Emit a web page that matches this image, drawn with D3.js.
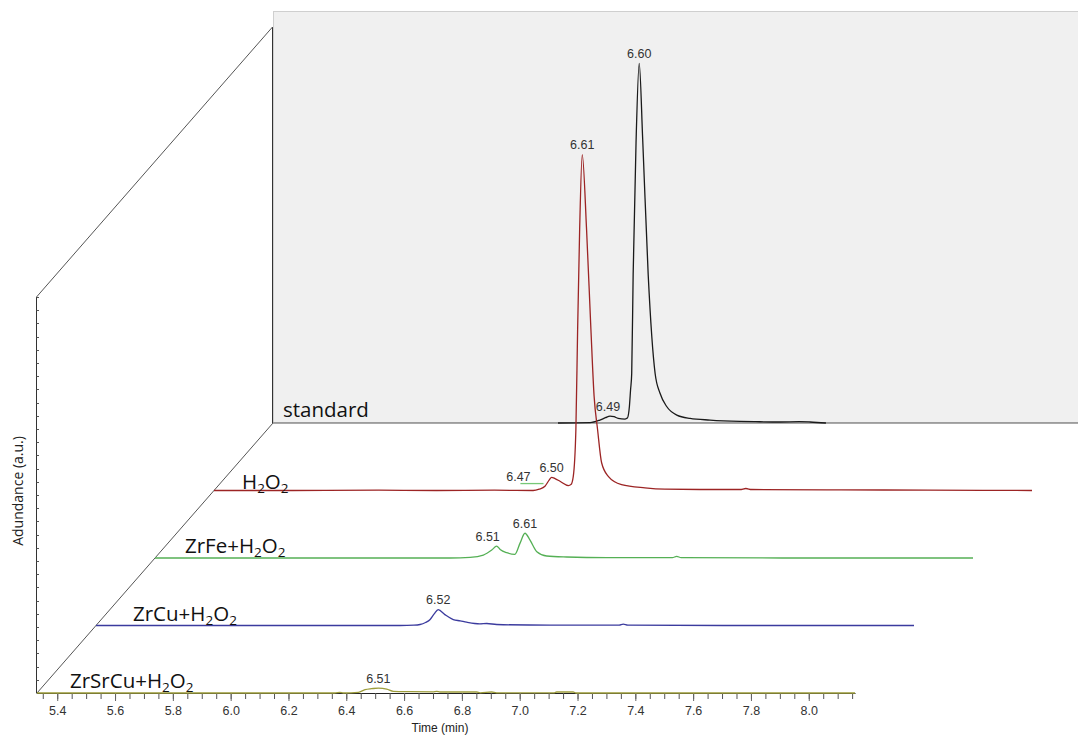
<!DOCTYPE html>
<html>
<head>
<meta charset="utf-8">
<script src="https://cdn.jsdelivr.net/npm/d3@7"></script>
<style>
  body { margin: 0; background: #fff; }
  svg { display: block; }
</style>
</head>
<body>
<svg id="chart" width="1078" height="736"></svg>
<script>
// ---- data -------------------------------------------------------------
const timeDomain = [5.33, 8.16];          // min
const abundanceDomain = [0, 120];         // a.u.
const timeTicks = [5.4, 5.6, 5.8, 6.0, 6.2, 6.4, 6.6, 6.8, 7.0, 7.2, 7.4, 7.6, 7.8, 8.0];

// series, front to back
const seriesNames = ["ZrSrCu+H2O2", "ZrCu+H2O2", "ZrFe+H2O2", "H2O2", "standard"];

// [time (min), abundance (a.u.)]
const traceZrSrCu = [
  [5.33, 0], [6.360, 0], [6.378, 0.2], [6.390, 0], [6.442, 0.2], [6.465, 1.0],
  [6.488, 1.3], [6.511, 1.5], [6.540, 1.2], [6.563, 0.5], [6.620, 0.4],
  [6.700, 0.35], [6.713, 0.5], [6.724, 0.3], [6.851, 0.3], [6.863, 0.05],
  [6.903, 0.3], [6.920, 0.05], [7.120, 0.05], [7.128, 0.3], [7.185, 0.3],
  [7.195, 0], [8.16, 0]
];
const traceZrCu = [
  [5.33, 0], [6.382, 0], [6.430, 0.1], [6.451, 0.3], [6.470, 0.9], [6.486, 1.8],
  [6.500, 3.5], [6.514, 4.8], [6.537, 3.3], [6.566, 1.8], [6.590, 1.4],
  [6.612, 1.0], [6.640, 0.6], [6.658, 0.5], [6.682, 0.6], [6.716, 0.3],
  [6.901, 0.1], [7.140, 0.1], [7.154, 0.4], [7.170, 0.1], [7.50, 0], [8.16, 0]
];
const traceZrFe = [
  [5.33, 0], [6.000, 0], [6.351, 0], [6.420, 0.2], [6.466, 0.9], [6.495, 2.4],
  [6.512, 3.6], [6.524, 2.6], [6.547, 1.6], [6.575, 1.1], [6.593, 4.5],
  [6.610, 7.5], [6.627, 5.5], [6.651, 1.9], [6.685, 0.6], [6.754, 0.3],
  [6.893, 0.1], [7.120, 0.1], [7.135, 0.5], [7.150, 0.1], [7.500, 0], [8.16, 0]
];
const traceH2O2 = [
  [5.33, 0], [5.60, 0], [5.90, 0.1], [6.10, 0], [6.30, 0.1], [6.434, 0],
  [6.455, 0.4], [6.475, 1.3], [6.490, 3.2], [6.498, 4.0], [6.510, 3.6],
  [6.527, 2.8], [6.556, 1.5], [6.565, 1.8], [6.573, 4.3], [6.582, 18.5],
  [6.588, 48.8], [6.595, 79], [6.604, 101.8], [6.619, 79], [6.634, 48.8],
  [6.645, 28.6], [6.657, 18.5], [6.671, 8.4], [6.694, 4.3], [6.740, 1.8],
  [6.821, 0.8], [6.890, 0.4], [7.011, 0.3], [7.150, 0.3], [7.170, 0.6],
  [7.190, 0.3], [7.500, 0.2], [7.800, 0.1], [8.16, 0]
];
const traceStandard = [
  [6.316, 0], [6.427, 0.1], [6.461, 0.9], [6.480, 1.6], [6.496, 2.1],
  [6.510, 1.9], [6.524, 1.4], [6.548, 1.2], [6.556, 1.5], [6.563, 5],
  [6.567, 10], [6.571, 15], [6.576, 45], [6.586, 85], [6.597, 109],
  [6.609, 86], [6.628, 45], [6.652, 15], [6.669, 9], [6.692, 5], [6.727, 2.4],
  [6.773, 1.4], [6.842, 0.9], [6.946, 0.5], [7.000, 0.4], [7.084, 0.3],
  [7.150, 0.4], [7.188, 0.3], [7.243, 0]
];
const traces = [traceZrSrCu, traceZrCu, traceZrFe, traceH2O2, traceStandard];

// short integration mark on the H2O2 run
const markH2O2 = [[6.39, 2.1], [6.47, 2.1]];

// retention-time labels
const peakSeries = ["standard", "standard", "H2O2", "H2O2", "ZrFe+H2O2", "ZrFe+H2O2", "ZrCu+H2O2", "ZrSrCu+H2O2"];
const peakTimes  = [6.597, 6.496, 6.604, 6.498, 6.610, 6.512, 6.514, 6.511];
const peakTexts  = ["6.60", "6.49", "6.61", "6.50", "6.61", "6.51", "6.52", "6.51"];
const markText = "6.47";

// ---- layout -----------------------------------------------------------
const W = 1078, H = 736;
const frontRange = [37, 855];
const frontBase = 693, axisHeight = 396;
const depthDx = 59, depthDy = -67.5;
const colors = ["#9c9c3a", "#3b3b9e", "#55b055", "#9c2424", "#1a1a1a"];
const nameDx = [33, 37, 30, 28, 10];
const nameDy = [-5, -5, -5, -2, -6];
const peakNudge = [0, -2, 0, 0, 0, -9, 0, 0];

const svg = d3.select("#chart");
const x = d3.scaleLinear().domain(timeDomain).range(frontRange);
const y = d3.scaleLinear().domain(abundanceDomain).range([frontBase, frontBase - axisHeight]);
const back = seriesNames.length - 1;
const sx = (k, t) => x(t) + k * depthDx;
const sy = (k, v) => y(v) + k * depthDy;

// back wall panel
const wallX = frontRange[0] + back * depthDx;
const wallTop = sy(back, abundanceDomain[1]);
const wallBase = sy(back, 0);
svg.append("rect")
  .attr("x", wallX + 0.5).attr("y", wallTop - 15.5)
  .attr("width", W - wallX + 10).attr("height", wallBase - wallTop + 15)
  .attr("fill", "#f0f0f0").attr("stroke", "#cfcfcf").attr("stroke-width", 1);
svg.append("line")
  .attr("x1", wallX).attr("x2", W)
  .attr("y1", wallBase).attr("y2", wallBase)
  .attr("stroke", "#8c8c8c").attr("stroke-width", 1.6);

// frame: front abundance axis, back wall axis, depth diagonals
const frame = svg.append("g").attr("stroke", "#333").attr("stroke-width", 1).attr("fill", "none");
frame.append("line").attr("x1", frontRange[0] - 0.5).attr("x2", frontRange[0] - 0.5)
  .attr("y1", y(abundanceDomain[1])).attr("y2", frontBase);
frame.append("line").attr("x1", wallX - 0.5).attr("x2", wallX - 0.5)
  .attr("y1", wallTop).attr("y2", wallBase);
frame.append("line").attr("x1", frontRange[0] - 0.5).attr("y1", y(abundanceDomain[1]))
  .attr("x2", wallX - 0.5).attr("y2", wallTop).attr("stroke", "#555");
frame.append("line").attr("x1", frontRange[0]).attr("y1", frontBase)
  .attr("x2", wallX).attr("y2", wallBase).attr("stroke", "#555");

// abundance minor ticks
const yTicks = d3.range(abundanceDomain[0], abundanceDomain[1] + 0.001, 4);
frame.selectAll(".ytick").data(yTicks).join("line")
  .attr("x1", frontRange[0] - 0.5).attr("x2", frontRange[0] + 2)
  .attr("y1", d => Math.round(y(d)) + 0.5).attr("y2", d => Math.round(y(d)) + 0.5)
  .attr("stroke", "#555");

// time axis
const minorTicks = d3.range(5.35, 8.16, 0.05).map(d => +d.toFixed(2));
const gMinor = svg.append("g").attr("transform", `translate(0,${frontBase})`)
  .call(d3.axisBottom(x).tickValues(minorTicks).tickFormat("").tickSize(6).tickSizeOuter(0));
gMinor.select(".domain").attr("stroke", "#222");
gMinor.selectAll(".tick line").attr("stroke", "#555");

const gAxis = svg.append("g").attr("transform", `translate(0,${frontBase})`)
  .call(d3.axisBottom(x).tickValues(timeTicks).tickFormat(d3.format(".1f"))
    .tickSize(8).tickSizeOuter(0).tickPadding(5));
gAxis.select(".domain").remove();
gAxis.selectAll(".tick line").attr("stroke", "#666");
gAxis.selectAll(".tick text")
  .attr("font-family", "'Liberation Sans', Arial, sans-serif")
  .attr("font-size", 12.5).attr("fill", "#333");

// traces, back to front
const line = d3.line().curve(d3.curveMonotoneX);
for (let k = back; k >= 0; k--) {
  svg.append("path")
    .datum(traces[k])
    .attr("d", line.x(d => sx(k, d[0])).y(d => sy(k, d[1])))
    .attr("fill", "none")
    .attr("stroke", colors[k])
    .attr("stroke-width", 1.3)
    .attr("stroke-linejoin", "round");
}

// integration mark on H2O2
const kH = seriesNames.indexOf("H2O2");
svg.append("path")
  .datum(markH2O2)
  .attr("d", d3.line().x(d => sx(kH, d[0])).y(d => sy(kH, d[1])))
  .attr("stroke", "#77c877").attr("stroke-width", 1.3).attr("fill", "none");
svg.append("text")
  .attr("x", sx(kH, markH2O2[0][0]) - 2).attr("y", sy(kH, markH2O2[0][1]) - 2.5)
  .attr("text-anchor", "middle")
  .attr("font-family", "'Liberation Sans', Arial, sans-serif")
  .attr("font-size", 12.5).attr("fill", "#333")
  .text(markText);

// series names with subscripts
seriesNames.forEach((name, k) => {
  const t = svg.append("text")
    .attr("x", sx(k, timeDomain[0]) + nameDx[k])
    .attr("y", sy(k, 0) + nameDy[k])
    .attr("font-family", "'Open Sans', 'Noto Sans', sans-serif")
    .attr("font-size", 20.5).attr("fill", "#111");
  const parts = name.split(/(2)/);
  let sub = false;
  parts.forEach(p => {
    if (!p) return;
    if (p === "2") {
      t.append("tspan").attr("font-size", 13.5).attr("dy", sub ? 0 : 4).text("2");
      sub = true;
    } else {
      t.append("tspan").attr("dy", sub ? -4 : 0).text(p);
      sub = false;
    }
  });
});

// retention-time labels above peaks
peakTexts.forEach((txt, i) => {
  const k = seriesNames.indexOf(peakSeries[i]);
  const pts = traces[k];
  const apex = pts.reduce((a, b) => Math.abs(b[0] - peakTimes[i]) < Math.abs(a[0] - peakTimes[i]) ? b : a);
  svg.append("text")
    .attr("x", sx(k, peakTimes[i]) + peakNudge[i])
    .attr("y", sy(k, apex[1]) - 5.5)
    .attr("text-anchor", "middle")
    .attr("font-family", "'Liberation Sans', Arial, sans-serif")
    .attr("font-size", 12.5).attr("fill", "#333")
    .text(txt);
});

// axis titles
svg.append("text")
  .attr("x", 440).attr("y", 732)
  .attr("text-anchor", "middle")
  .attr("font-family", "'Liberation Sans', Arial, sans-serif")
  .attr("font-size", 12).attr("fill", "#222")
  .text("Time (min)");
svg.append("text")
  .attr("transform", "translate(23,491) rotate(-90)")
  .attr("text-anchor", "middle")
  .attr("font-family", "'Open Sans', 'Noto Sans', sans-serif")
  .attr("font-size", 14).attr("fill", "#222")
  .text("Adundance (a.u.)");
</script>
</body>
</html>
